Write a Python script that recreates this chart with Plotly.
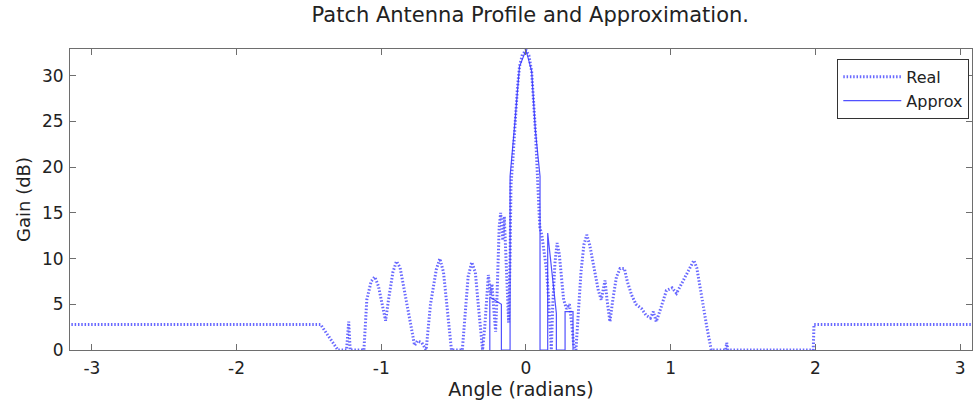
import plotly.graph_objects as go

# Measured antenna gain pattern (angle in radians, gain in dB, clipped at 0)
real_angle = [
    -3.1416, -1.42, -1.30, -1.24, -1.225, -1.215, -1.12, -1.10, -1.07, -1.045,
    -1.02, -0.99, -0.97, -0.95, -0.92, -0.895, -0.87, -0.84, -0.80, -0.77,
    -0.75, -0.72, -0.69, -0.66, -0.62, -0.595, -0.57, -0.54, -0.515, -0.44,
    -0.42, -0.40, -0.375, -0.35, -0.33, -0.31, -0.30, -0.285, -0.27, -0.26,
    -0.245, -0.235, -0.225, -0.21, -0.20, -0.185, -0.175, -0.16, -0.15, -0.14,
    -0.13, -0.12, -0.11, -0.104, -0.09, -0.076, -0.06, -0.045, -0.025, 0.0,
    0.02, 0.039, 0.055, 0.065, 0.075, 0.085, 0.095, 0.11, 0.125, 0.14,
    0.155, 0.165, 0.175, 0.185, 0.20, 0.215, 0.23, 0.245, 0.26, 0.28,
    0.30, 0.315, 0.33, 0.345, 0.36, 0.38, 0.40, 0.42, 0.44, 0.47,
    0.50, 0.52, 0.535, 0.546, 0.56, 0.58, 0.60, 0.625, 0.65, 0.68,
    0.70, 0.73, 0.76, 0.80, 0.83, 0.86, 0.88, 0.90, 0.93, 0.97,
    1.01, 1.04, 1.06, 1.10, 1.13, 1.16, 1.18, 1.21, 1.25, 1.28,
    1.38, 1.387, 1.395, 1.985, 1.99, 3.1416,
]
real_gain = [
    2.8, 2.8, 0.0, 0.0, 3.1, 0.0, 0.0, 5.5, 7.5, 8.0,
    7.0, 4.8, 3.2, 5.5, 8.5, 9.7, 9.0, 6.5, 3.0, 0.5,
    1.0, 0.8, 0.0, 5.0, 8.8, 10.0, 8.5, 4.0, 0.0, 0.0,
    4.0, 8.0, 9.6, 8.5, 5.0, 1.5, 0.0, 2.5, 6.5, 8.2,
    6.0, 7.2, 5.0, 2.0, 6.0, 13.5, 15.0, 12.0, 14.6, 11.0,
    6.0, 3.0, 10.0, 18.0, 21.0, 25.0, 28.5, 31.0, 32.3, 32.8,
    32.2, 30.5, 27.0, 24.0, 20.5, 17.0, 13.5, 12.5, 11.0, 9.0,
    6.0, 3.0, 0.0, 5.0, 9.5, 11.7, 10.5, 8.0, 5.5, 4.5,
    5.0, 3.0, 0.5, 0.0, 4.0, 8.5, 11.5, 12.6, 11.5, 9.0,
    6.5, 5.5, 6.8, 7.6, 5.5, 3.1, 5.5, 8.0, 8.9, 8.9,
    7.5, 6.0, 5.0, 4.5, 3.8, 3.5, 4.2, 3.1, 4.5, 6.5,
    6.8, 6.2, 6.8, 8.0, 9.0, 9.8, 9.0, 6.0, 2.5, 0.0,
    0.0, 0.8, 0.0, 0.0, 2.8, 2.8,
]

# Piecewise approximation of the main lobe and near side lobes
approx_angle = [
    -0.25, -0.25, -0.17, -0.17, -0.11, -0.11, -0.076, -0.045, 0.0, 0.039,
    0.065, 0.097, 0.097, 0.15, 0.15, 0.21, 0.21, 0.27, 0.27, 0.325, 0.325,
]
approx_gain = [
    0.0, 5.8, 5.0, 0.0, 0.0, 19.0, 25.0, 31.0, 32.8, 30.5,
    24.0, 19.0, 0.0, 0.0, 12.8, 4.0, 0.0, 0.0, 4.2, 4.2, 0.0,
]

x_tick_vals = [-3, -2, -1, 0, 1, 2, 3]
x_tick_text = ["-3", "-2", "-1", "0", "1", "2", "3"]
y_tick_vals = [0, 5, 10, 15, 20, 25, 30]
y_tick_text = ["0", "5", "10", "15", "20", "25", "30"]

FONT = "DejaVu Sans"
AXIS_GREY = "#6e6e6e"
TEXT = "#222"

fig = go.Figure()
fig.add_trace(go.Scatter(
    x=real_angle, y=real_gain, mode="lines", name="Real",
    line=dict(color="rgba(40,40,255,0.7)", width=3, dash="1.5px,1.8px"),
))
fig.add_trace(go.Scatter(
    x=approx_angle, y=approx_gain, mode="lines", name="Approx",
    line=dict(color="rgba(50,50,255,0.85)", width=1.2),
))

axis_common = dict(
    showline=True, linecolor=AXIS_GREY, linewidth=1, mirror="ticks",
    ticks="inside", ticklen=6, tickcolor=AXIS_GREY, tickwidth=1,
    showgrid=False, zeroline=False,
    tickfont=dict(family=FONT, size=17, color=TEXT),
)

fig.update_layout(
    width=973, height=407,
    margin=dict(l=70, r=1, t=49, b=57),
    paper_bgcolor="white", plot_bgcolor="white",
    title=dict(
        text="Patch Antenna Profile and Approximation.",
        font=dict(family=FONT, size=21, color=TEXT),
        x=0.545, xanchor="center", y=1 - 15 / 407, yanchor="middle",
    ),
    xaxis=dict(
        range=[-3.151, 3.082], tickvals=x_tick_vals, ticktext=x_tick_text,
        ticklabelstandoff=3,
        title=dict(text="Angle (radians)", font=dict(family=FONT, size=19, color=TEXT), standoff=0),
        **axis_common,
    ),
    yaxis=dict(
        range=[0, 32.92], tickvals=y_tick_vals, ticktext=y_tick_text,
        ticklabelstandoff=2,
        title=dict(text="Gain (dB)", font=dict(family=FONT, size=18, color=TEXT), standoff=6),
        **axis_common,
    ),
    legend=dict(
        x=0.997, xanchor="right", y=0.967, yanchor="top",
        bordercolor="#333", borderwidth=1, bgcolor="white",
        font=dict(family=FONT, size=16, color=TEXT),
        itemwidth=58,
    ),
    showlegend=True,
)

fig.write_html("out.html")
